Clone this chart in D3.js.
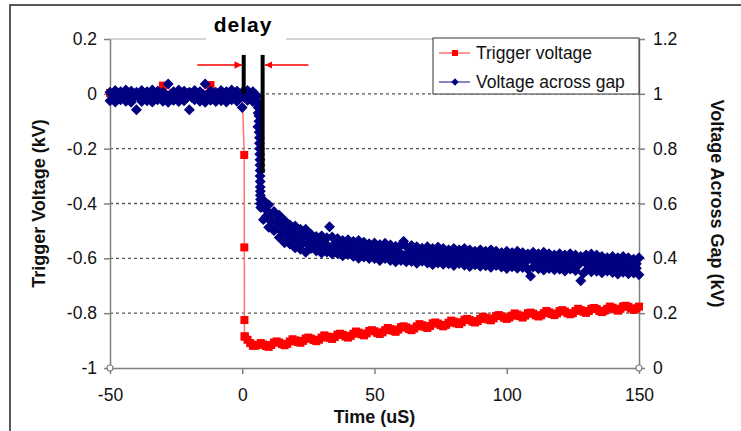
<!DOCTYPE html>
<html>
<head>
<meta charset="utf-8">
<script src="https://cdn.jsdelivr.net/npm/d3@7"></script>
<style>
body{margin:0;background:#fff}
svg{display:block}
text{font-family:"Liberation Sans",Arial,sans-serif}
</style>
</head>
<body>
<div id="chart"></div>
<script>
// trigger voltage (left axis, kV)
var trigTime = [-50,-48,-46,-44,-42,-40,-38,-36,-34,-32,-30,-28,-26,-24,-22,-20,-18,-16,-14,-12,-10,-8,-6,-4,-2,0,
  0.75,0.78,0.82,0.85,
  1,2,3,4,5,6,7,8,9,10,11,12,13,14,15,16,17,18,19,20,21,22,23,24,25,26,27,28,29,30,
  31,32,33,34,35,36,37,38,39,40,41,42,43,44,45,46,47,48,49,50,51,52,53,54,55,56,57,58,59,60,
  61,62,63,64,65,66,67,68,69,70,71,72,73,74,75,76,77,78,79,80,81,82,83,84,85,86,87,88,89,90,
  91,92,93,94,95,96,97,98,99,100,101,102,103,104,105,106,107,108,109,110,111,112,113,114,115,116,117,118,119,120,
  121,122,123,124,125,126,127,128,129,130,131,132,133,134,135,136,137,138,139,140,141,142,143,144,145,146,147,148,149,150]
var trigKV = [0.003,-0.005,0.006,-0.002,0.004,-0.006,0.002,0.005,-0.004,0.001,0.03,-0.003,0.004,-0.005,0.002,0.006,-0.004,0.003,-0.002,0.032,0.001,-0.005,0.004,-0.003,0.002,0.0,
  -0.223,-0.56,-0.825,-0.885,
  -0.885,-0.897,-0.909,-0.919,-0.919,-0.915,-0.909,-0.914,-0.920,-0.923,-0.916,-0.907,
  -0.903,-0.907,-0.913,-0.917,-0.912,-0.903,-0.895,-0.899,-0.905,-0.908,-0.901,-0.892,
  -0.889,-0.893,-0.898,-0.902,-0.897,-0.889,-0.881,-0.885,-0.890,-0.894,-0.887,-0.878,
  -0.875,-0.879,-0.885,-0.889,-0.883,-0.875,-0.867,-0.871,-0.877,-0.881,-0.874,-0.865,
  -0.862,-0.866,-0.872,-0.876,-0.870,-0.862,-0.854,-0.858,-0.864,-0.868,-0.860,-0.851,
  -0.848,-0.852,-0.858,-0.862,-0.856,-0.848,-0.840,-0.844,-0.850,-0.854,-0.847,-0.837,
  -0.834,-0.838,-0.844,-0.848,-0.843,-0.835,-0.827,-0.831,-0.837,-0.840,-0.833,-0.824,
  -0.821,-0.825,-0.831,-0.834,-0.829,-0.821,-0.813,-0.817,-0.823,-0.826,-0.819,-0.810,
  -0.807,-0.811,-0.817,-0.821,-0.816,-0.809,-0.801,-0.805,-0.811,-0.816,-0.809,-0.800,
  -0.798,-0.802,-0.808,-0.812,-0.808,-0.800,-0.792,-0.797,-0.803,-0.807,-0.801,-0.792,
  -0.789,-0.794,-0.800,-0.804,-0.800,-0.792,-0.784,-0.789,-0.795,-0.799,-0.792,-0.784,
  -0.781,-0.785,-0.792,-0.796,-0.791,-0.784,-0.776,-0.780,-0.786,-0.791,-0.784,-0.775,
  -0.773,-0.777,-0.783,-0.788,-0.783,-0.776]

// voltage across gap (right axis, kV), peak-detect pairs: high and low reading per sample
var gapTime = [-50,-49,-48,-47,-46,-45,-44,-43,-42,-41,-40,-39,-38,-37,-36,-35,-34,-33,-32,-31,
  -30,-29,-28,-27,-26,-25,-24,-23,-22,-21,-20,-19,-18,-17,-16,-15,-14,-13,-12,-11,
  -10,-9,-8,-7,-6,-5,-4,-3,-2,-1,0,1,2,3,4,5,
  5.5,5.9,6,6.3,6.4,6.5,6.6,6.7,6.75,6.8,6.85,6.9,7,
  8,9,10,11,12,13,14,15,16,17,18,19,20,21,22,23,24,25,26,27,28,29,30,
  31,32,33,34,35,36,37,38,39,40,41,42,43,44,45,46,47,48,49,50,51,52,53,54,55,56,57,58,59,60,
  61,62,63,64,65,66,67,68,69,70,71,72,73,74,75,76,77,78,79,80,81,82,83,84,85,86,87,88,89,90,
  91,92,93,94,95,96,97,98,99,100,101,102,103,104,105,106,107,108,109,110,111,112,113,114,115,116,117,118,119,120,
  121,122,123,124,125,126,127,128,129,130,131,132,133,134,135,136,137,138,139,140,141,142,143,144,145,146,147,148,149,150]
var gapHiKV = [1.006,0.998,1.012,0.998,1.008,0.998,1.014,0.998,1.010,0.998,
  1.006,0.998,1.012,0.998,1.008,0.998,1.014,0.998,1.010,0.998,
  1.006,0.998,1.036,0.998,1.008,0.998,1.014,0.998,1.010,0.998,
  1.006,0.998,1.012,0.998,1.008,0.998,1.036,0.998,1.010,0.998,
  1.006,0.998,1.012,0.998,1.008,0.998,1.014,0.998,1.010,0.998,
  1.006,0.998,1.012,0.998,1.008,0.998,
  0.99,0.965,0.95,0.92,0.88,0.84,0.80,0.76,0.72,0.68,0.645,0.615,0.598,
  0.612,0.577,0.595,0.557,0.571,0.537,0.557,0.519,0.538,0.506,
  0.522,0.495,0.518,0.486,0.506,0.479,0.506,0.474,0.488,0.466,
  0.480,0.462,0.482,0.459,0.475,0.515,0.478,0.453,0.472,0.450,
  0.465,0.447,0.468,0.445,0.462,0.442,0.465,0.440,0.459,0.438,
  0.453,0.436,0.456,0.433,0.450,0.432,0.455,0.430,0.449,0.428,
  0.444,0.427,0.448,0.462,0.443,0.424,0.447,0.423,0.442,0.421,
  0.437,0.420,0.442,0.419,0.436,0.418,0.441,0.417,0.436,0.415,
  0.431,0.414,0.436,0.413,0.431,0.412,0.436,0.411,0.431,0.410,
  0.426,0.409,0.431,0.408,0.426,0.407,0.431,0.406,0.426,0.405,
  0.421,0.404,0.426,0.404,0.421,0.403,0.426,0.402,0.421,0.401,
  0.416,0.400,0.422,0.399,0.417,0.398,0.422,0.397,0.417,0.396,
  0.412,0.395,0.417,0.394,0.412,0.393,0.417,0.392,0.412,0.391,
  0.407,0.390,0.412,0.389,0.416,0.388,0.412,0.387,0.407,0.386,
  0.402,0.385,0.407,0.384,0.402,0.383,0.407,0.382,0.402,0.381,
  0.397,0.380,0.402]
var gapLoKV = [0.975,0.986,0.970,0.986,0.978,0.986,0.973,0.986,0.969,0.986,
  0.942,0.986,0.972,0.986,0.975,0.986,0.970,0.986,0.978,0.986,
  0.973,0.986,0.969,0.986,0.976,0.986,0.972,0.986,0.975,0.986,
  0.942,0.986,0.978,0.986,0.973,0.986,0.969,0.986,0.976,0.986,
  0.972,0.986,0.975,0.986,0.970,0.986,0.978,0.986,0.973,0.986,
  0.950,0.986,0.976,0.986,0.972,0.986,
  0.975,0.88,0.93,0.90,0.86,0.82,0.78,0.74,0.70,0.66,0.63,0.60,0.585,
  0.541,0.553,0.513,0.533,0.501,0.513,0.476,0.495,0.457,0.482,
  0.452,0.471,0.438,0.462,0.433,0.455,0.422,0.450,0.436,0.450,
  0.427,0.446,0.419,0.443,0.423,0.440,0.416,0.437,0.417,0.434,
  0.409,0.431,0.414,0.429,0.407,0.426,0.400,0.424,0.405,0.422,
  0.399,0.420,0.399,0.417,0.392,0.416,0.399,0.414,0.392,0.412,
  0.387,0.411,0.392,0.409,0.387,0.408,0.388,0.407,0.382,0.405,
  0.389,0.404,0.383,0.403,0.377,0.402,0.383,0.401,0.378,0.399,
  0.380,0.398,0.374,0.397,0.381,0.396,0.375,0.395,0.370,0.394,
  0.376,0.393,0.371,0.392,0.373,0.391,0.367,0.390,0.374,0.389,
  0.368,0.388,0.363,0.388,0.369,0.387,0.364,0.386,0.366,0.385,
  0.360,0.335,0.368,0.383,0.362,0.382,0.357,0.381,0.363,0.380,
  0.358,0.379,0.360,0.378,0.354,0.377,0.361,0.376,0.355,0.375,
  0.318,0.345,0.356,0.373,0.351,0.372,0.353,0.371,0.347,0.370,
  0.354,0.369,0.348,0.368,0.343,0.367,0.349,0.366,0.344,0.365,
  0.346,0.364,0.340]

var timeTicks = [-50,0,50,100,150]
var leftTicks = [-1,-0.8,-0.6,-0.4,-0.2,0,0.2]
var rightTicks = [0,0.2,0.4,0.6,0.8,1,1.2]
var gridLevels = [-0.8,-0.6,-0.4,-0.2,0]
var seriesNames = ["Trigger voltage","Voltage across gap"]

// delay annotation, in time (uS) and trigger kV
var delayTimes = [0.55,7.7]
var delayTops = [0.142,0.142]
var delayBottoms = [0.0,-0.289]
var arrowFrom = [-17,25]
var arrowTo = [-0.1,8.6]
var arrowLevel = 0.105

var W = 741, H = 431
var RED = "#ff0000", NAVY = "#000080"

var svg = d3.select("#chart").append("svg")
  .attr("width",W).attr("height",H)
  .style("background","#fff")

var x = d3.scaleLinear().domain([-50,150]).range([110,639])
var yL = d3.scaleLinear().domain([-1,0.2]).range([368,39])
var yR = d3.scaleLinear().domain([0,1.2]).range([368,39])
var fmt = function(d){ return String(+d.toFixed(1)) }

// outer frame
svg.append("path")
  .attr("d","M10,"+H+"V5H"+W)
  .attr("fill","none").attr("stroke","#222").attr("stroke-width",1.5)

// plot top edge + dashed grid
svg.append("line")
  .attr("x1",x(-50)).attr("x2",x(150))
  .attr("y1",yL(0.2)).attr("y2",yL(0.2))
  .attr("stroke","#aaa").attr("stroke-width",1)
svg.selectAll(".grid").data(gridLevels).enter().append("line")
  .attr("class","grid")
  .attr("x1",x(-50)).attr("x2",x(150))
  .attr("y1",function(d){return yL(d)}).attr("y2",function(d){return yL(d)})
  .attr("stroke","#555").attr("stroke-width",1.3).attr("stroke-dasharray","3,3")

function styleAxis(g){
  g.selectAll("path,line").attr("stroke","#808080").attr("stroke-width",1.5)
  g.selectAll("text").attr("font-size",17.5).attr("fill","#111")
    .attr("font-family","'Liberation Sans',Arial,sans-serif")
}

svg.append("g").attr("transform","translate("+x(-50)+",0)")
  .call(d3.axisLeft(yL).tickValues(leftTicks).tickSize(6).tickSizeOuter(0).tickPadding(7).tickFormat(fmt))
  .call(styleAxis)
svg.append("g").attr("transform","translate("+x(150)+",0)")
  .call(d3.axisRight(yR).tickValues(rightTicks).tickSize(6).tickSizeOuter(0).tickPadding(8).tickFormat(fmt))
  .call(styleAxis)
svg.append("g").attr("transform","translate(0,"+yL(-1)+")")
  .call(d3.axisBottom(x).tickValues(timeTicks).tickSize(6).tickSizeOuter(0).tickPadding(15).tickFormat(fmt))
  .call(styleAxis)

// small corner markers
svg.selectAll(".corner").data([-50,150]).enter().append("circle")
  .attr("class","corner")
  .attr("cx",function(d){return x(d)}).attr("cy",yL(-1)).attr("r",3)
  .attr("fill","#fff").attr("stroke","#808080").attr("stroke-width",1.2)

// axis titles
svg.append("text")
  .attr("transform","translate(45,"+((yL(-1)+yL(0.2))/2)+") rotate(-90)")
  .attr("text-anchor","middle").attr("font-size",18).attr("font-weight","bold").attr("fill","#111")
  .text("Trigger Voltage (kV)")
svg.append("text")
  .attr("transform","translate(711,"+((yL(-1)+yL(0.2))/2)+") rotate(90)")
  .attr("text-anchor","middle").attr("font-size",18).attr("font-weight","bold").attr("fill","#111")
  .text("Voltage Across Gap (kV)")
svg.append("text")
  .attr("x",(x(-50)+x(150))/2).attr("y",423)
  .attr("text-anchor","middle").attr("font-size",18).attr("font-weight","bold").attr("fill","#111")
  .text("Time (uS)")

var trigData = trigTime.map(function(t,i){return {t:t,v:trigKV[i]}})
var gapData = gapTime.map(function(t,i){return {t:t,v:gapHiKV[i]}})
  .concat(gapTime.map(function(t,i){return {t:t,v:gapLoKV[i]}}))

// trigger series
svg.append("path").datum(trigData)
  .attr("fill","none").attr("stroke","#ff7272").attr("stroke-width",1.5)
  .attr("d",d3.line().x(function(d){return x(d.t)}).y(function(d){return yL(d.v)}))
svg.selectAll(".trig").data(trigData).enter().append("rect")
  .attr("class","trig")
  .attr("x",function(d){return x(d.t)-4}).attr("y",function(d){return yL(d.v)-4})
  .attr("width",8).attr("height",8).attr("fill",RED)

// gap series
var diamond = "M0,-4.6L4.6,0L0,4.6L-4.6,0Z"
svg.selectAll(".gap").data(gapData).enter().append("path")
  .attr("class","gap")
  .attr("d",diamond)
  .attr("transform",function(d){return "translate("+x(d.t)+","+yR(d.v)+")"})
  .attr("fill",NAVY).attr("stroke",NAVY).attr("stroke-width",1.2)

// legend
var lg = svg.append("g").attr("transform","translate(433,38)")
lg.append("rect").attr("width",206).attr("height",56)
  .attr("fill","#fff").attr("stroke","#333").attr("stroke-width",1)
seriesNames.forEach(function(name,i){
  var cy = 15+i*29
  var col = i===0 ? RED : NAVY
  lg.append("line").attr("x1",6).attr("x2",37).attr("y1",cy).attr("y2",cy)
    .attr("stroke",i===0 ? "#ff5050" : "#3535a0").attr("stroke-width",1.2)
  if(i===0)
    lg.append("rect").attr("x",19).attr("y",cy-3).attr("width",6).attr("height",6).attr("fill",col)
  else
    lg.append("path").attr("d",diamond).attr("transform","translate(22,"+cy+") scale(0.8)").attr("fill",col)
  lg.append("text").attr("x",43).attr("y",cy+6)
    .attr("font-size",17.5).attr("fill","#111").text(name)
})

// delay annotation
svg.append("rect").attr("x",206).attr("y",10).attr("width",80).attr("height",30).attr("fill","#fff")
svg.append("text")
  .attr("x",243).attr("y",32)
  .attr("text-anchor","middle").attr("font-size",21).attr("font-weight","bold")
  .attr("letter-spacing",1).attr("fill","#000")
  .text("delay")

svg.append("defs").append("marker")
  .attr("id","arrowhead").attr("viewBox","0 0 10 10")
  .attr("refX",10).attr("refY",5)
  .attr("markerWidth",5).attr("markerHeight",5)
  .attr("orient","auto")
  .append("path").attr("d","M0,0L10,5L0,10Z").attr("fill",RED)

arrowFrom.forEach(function(f,i){
  svg.append("line")
    .attr("x1",x(f)).attr("x2",x(arrowTo[i]))
    .attr("y1",yL(arrowLevel)).attr("y2",yL(arrowLevel))
    .attr("stroke",RED).attr("stroke-width",1.5)
    .attr("marker-end","url(#arrowhead)")
})
delayTimes.forEach(function(t,i){
  svg.append("line")
    .attr("x1",x(t)).attr("x2",x(t))
    .attr("y1",yL(delayTops[i])).attr("y2",yL(delayBottoms[i]))
    .attr("stroke","#000").attr("stroke-width",4)
})
</script>
</body>
</html>
